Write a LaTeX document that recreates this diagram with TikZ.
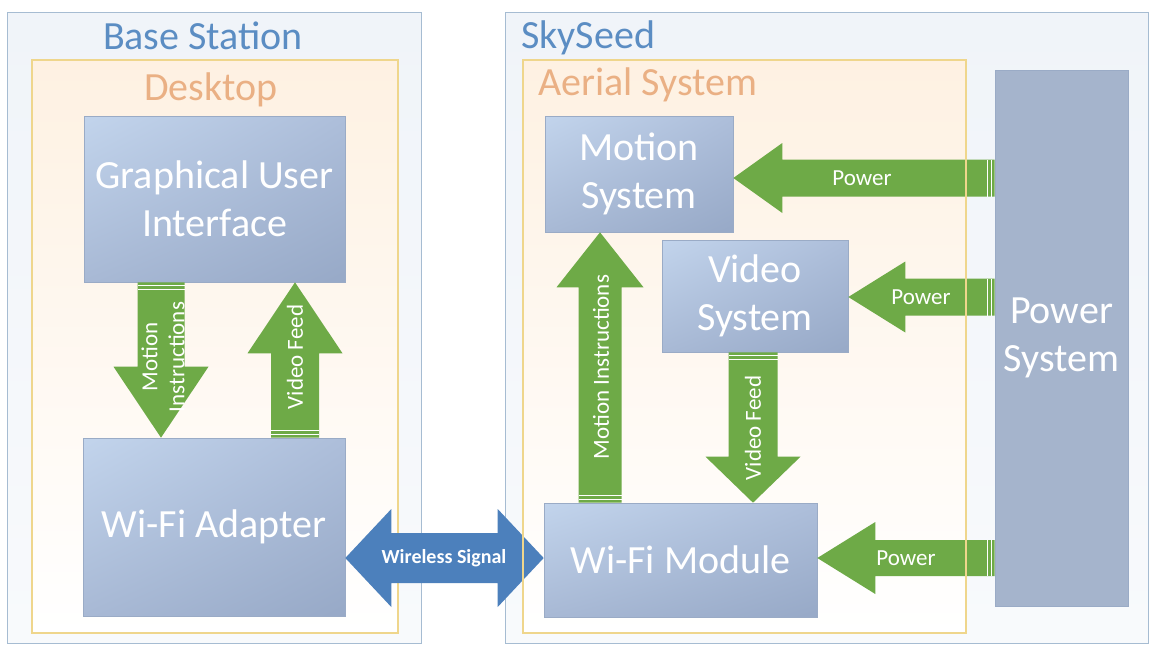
\documentclass[tikz,border=0pt]{standalone}
\usepackage{fontspec}
\setmainfont{Carlito}
\usetikzlibrary{calc,shadings}
\definecolor{boxUL}{HTML}{C2D4EC}
\definecolor{boxUR}{HTML}{ADBEDA}
\definecolor{boxLL}{HTML}{A8B9D5}
\definecolor{boxLR}{HTML}{97A9C7}
\definecolor{powerfill}{HTML}{A5B4CC}
\definecolor{boxline}{HTML}{9AABC6}
\definecolor{arrowgreen}{HTML}{6EAA47}
\definecolor{arrowblue}{HTML}{4C80BC}
\definecolor{titleblue}{HTML}{5B8DC3}
\definecolor{titleorange}{HTML}{EAB084}
\definecolor{outerline}{HTML}{A6BCD2}
\definecolor{outertop}{HTML}{F0F4F9}
\definecolor{outerbot}{HTML}{F8FAFC}
\definecolor{innerline}{HTML}{EFD68C}
\definecolor{innertop}{HTML}{FEF1E2}
\definecolor{innerbot}{HTML}{FFFFFF}
\newcommand{\BigTxt}{\fontsize{40}{48}\selectfont}
\newcommand{\SmallTxt}{\fontsize{23}{27}\selectfont}
\newcommand{\WireTxt}{\bfseries\fontsize{20}{24}\selectfont}
% #1 style, #2 tail, #3 tip, #4 half shaft, #5 half head, #6 head length
\newcommand{\fatarrow}[6]{%
  \coordinate (fahead) at ($(#3)!#6!(#2)$);
  \fill[#1] ($(#2)!#4!90:(#3)$) -- ($(fahead)!#4!90:(#3)$) -- ($(fahead)!#5!90:(#3)$)
    -- (#3) -- ($(fahead)!#5!-90:(#3)$) -- ($(fahead)!#4!-90:(#3)$) -- ($(#2)!#4!-90:(#3)$) -- cycle;
  \foreach \dd in {3pt,7pt}{%
    \coordinate (fastripe) at ($(#2)!\dd!(#3)$);
    \draw[stripe] ($(fastripe)!#4!90:(#3)$) -- ($(fastripe)!#4!-90:(#3)$);
  }%
}
% #1 style, #2 tip A, #3 tip B, #4 half shaft, #5 half head, #6 head length
\newcommand{\dblarrow}[6]{%
  \coordinate (dbA) at ($(#2)!#6!(#3)$);
  \coordinate (dbB) at ($(#3)!#6!(#2)$);
  \fill[#1] (#2) -- ($(dbA)!#5!90:(#3)$) -- ($(dbA)!#4!90:(#3)$) -- ($(dbB)!#4!-90:(#2)$)
    -- ($(dbB)!#5!-90:(#2)$) -- (#3) -- ($(dbB)!#5!90:(#2)$) -- ($(dbB)!#4!90:(#2)$)
    -- ($(dbA)!#4!-90:(#3)$) -- ($(dbA)!#5!-90:(#3)$) -- cycle;
}
\begin{document}
\begin{tikzpicture}[x=1pt,y=-1pt,
  sysbox/.style={draw=boxline, line width=0.6pt, upper left=boxUL, upper right=boxUR,
    lower left=boxLL, lower right=boxLR, text=white, align=center, font=\BigTxt, inner sep=0pt},
  flatbox/.style={draw=boxline, line width=0.6pt, fill=powerfill, text=white, align=center,
    font=\BigTxt, inner sep=0pt},
  outerbox/.style={draw=outerline, line width=1pt, top color=outertop, bottom color=outerbot},
  innerbox/.style={draw=innerline, line width=1.2pt, top color=innertop, bottom color=innerbot},
  innerborder/.style={draw=innerline, line width=1.2pt},
  outertitle/.style={text=titleblue, font=\BigTxt, inner sep=0pt},
  innertitle/.style={text=titleorange, font=\BigTxt, inner sep=0pt},
  arrowlabel/.style={text=white, font=\SmallTxt, align=center, inner sep=0pt},
  wirelabel/.style={text=white, font=\WireTxt, inner sep=0pt},
  greenarrow/.style={fill=arrowgreen},
  bluearrow/.style={fill=arrowblue},
  stripe/.style={draw=white, line width=0.8pt},
]
\useasboundingbox (0,0) rectangle (1150,648);
\fill[white] (0,0) rectangle (1150,648);

% containers
\path[outerbox] (7,12) rectangle (421,643);
\path[outerbox] (505,12) rectangle (1148,643);
\path[innerbox] (32,60) rectangle (398,633);
\path[innerbox] (523,60) rectangle (966,633);

\node[outertitle, anchor=base] (tbs) at (203,49) {Base Station};
\node[innertitle, anchor=base] (tdk) at (211,100) {Desktop};
\node[outertitle, anchor=base west] (tss) at (521,48) {SkySeed};
\node[innertitle, anchor=base west] (tas) at (538,95) {Aerial System};

% blocks
\node[sysbox, minimum width=261, minimum height=166] (gui) at (214.5,199) {Graphical User\\Interface};
\node[sysbox, minimum width=262, minimum height=178] (wa) at (214,527) {Wi-Fi Adapter};
\node[sysbox, minimum width=188, minimum height=116] (ms) at (639,174) {Motion\\System};
\node[sysbox, minimum width=186, minimum height=112] (vs) at (755,296) {Video\\System};
\node[sysbox, minimum width=273, minimum height=114] (wm) at (680.5,560) {Wi-Fi Module};
\node[flatbox, minimum width=133, minimum height=536] (ps) at (1061.5,338) {Power\\System};

% arrow end points
\coordinate (a1s) at (161,0 |- gui.south);
\coordinate (a1e) at (161,0 |- wa.north);
\coordinate (a2s) at (295,0 |- wa.north);
\coordinate (a2e) at (295,0 |- gui.south);
\coordinate (a3s) at (600,0 |- wm.north);
\coordinate (a3e) at (600,0 |- ms.south);
\coordinate (a4s) at (753,0 |- vs.south);
\coordinate (a4e) at (753,0 |- wm.north);
\coordinate (a5s) at (ps.west |- 0,178);
\coordinate (a5e) at (ms.east |- 0,178);
\coordinate (a6s) at (ps.west |- 0,297);
\coordinate (a6e) at (vs.east |- 0,297);
\coordinate (a7s) at (ps.west |- 0,558);
\coordinate (a7e) at (wm.east |- 0,558);
\coordinate (wsL) at (wa.east |- 0,558);
\coordinate (wsR) at (wm.west |- 0,558);

% arrows
\fatarrow{greenarrow}{a1s}{a1e}{23.5pt}{47.5pt}{71pt}
\fatarrow{greenarrow}{a2s}{a2e}{24pt}{47.5pt}{71pt}
\fatarrow{greenarrow}{a3s}{a3e}{21.5pt}{43.5pt}{55pt}
\fatarrow{greenarrow}{a4s}{a4e}{24.5pt}{47.5pt}{46pt}
\fatarrow{greenarrow}{a5s}{a5e}{18.5pt}{35pt}{49pt}
\fatarrow{greenarrow}{a6s}{a6e}{18.5pt}{35.5pt}{57pt}
\fatarrow{greenarrow}{a7s}{a7e}{18pt}{36pt}{58pt}
\dblarrow{bluearrow}{wsL}{wsR}{25pt}{49pt}{46pt}

\path[innerborder] (523,60) rectangle (966,633);

% labels
\node[arrowlabel, rotate=90] (l1) at (163,357) {Motion\\Instructions};
\node[arrowlabel, rotate=90] (l2) at (295,357) {Video Feed};
\node[arrowlabel, rotate=90] (l3) at (601,367) {Motion Instructions};
\node[arrowlabel, rotate=90] (l4) at (753,428) {Video Feed};
\node[arrowlabel] (l5) at (862,178) {Power};
\node[arrowlabel] (l6) at (921,297) {Power};
\node[arrowlabel] (l7) at (906,558) {Power};
\node[wirelabel] (l8) at (444,558) {Wireless Signal};
\end{tikzpicture}
\end{document}
